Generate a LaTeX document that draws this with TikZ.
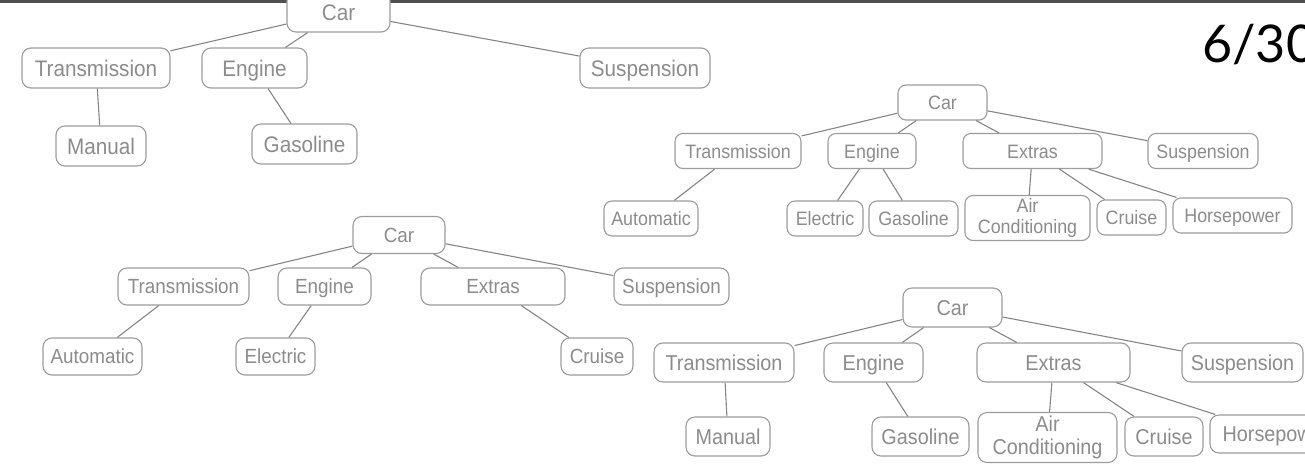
\documentclass[tikz,border=0pt]{standalone}
\usepackage{fontspec}
\setmainfont{Liberation Sans}
\newfontfamily\boxfont[FakeStretch=0.92]{Liberation Sans}
\newfontfamily\pagefont{Lato}
\usetikzlibrary{positioning}
\definecolor{treeText}{HTML}{8C8C8C}
\definecolor{treeLine}{HTML}{9C9C9C}
\definecolor{edgeGrey}{HTML}{858585}
\definecolor{barGrey}{HTML}{505050}
\tikzset{
  tbox/.style={draw=treeLine, fill=white, line width=1.1pt, rounded corners=9pt,
        text=treeText, align=center, inner sep=0pt, text depth=0pt},
  tbig/.style={tbox, minimum height=40pt, text height=16.2pt,
        font=\boxfont\fontsize{22.5}{24.5}\selectfont},
  tmid/.style={tbox, minimum height=37pt, text height=14.8pt,
        font=\boxfont\fontsize{20.5}{22.5}\selectfont},
  tsmall/.style={tbox, minimum height=35pt, rounded corners=8pt, text height=14pt,
        font=\boxfont\fontsize{19.4}{21.5}\selectfont},
  tlarge/.style={tbox, minimum height=39pt, text height=15.5pt,
        font=\boxfont\fontsize{21.5}{23.5}\selectfont},
  twoline/.style={text height=, text depth=},
  link/.style={draw=edgeGrey, line width=1.1pt},
  pagenum/.style={font=\pagefont\fontsize{52}{56}\selectfont, text=black, inner sep=0pt}
}
\begin{document}
\begin{tikzpicture}[x=1pt, y=-1pt]
\useasboundingbox (0,0) rectangle (1305,463);
\clip (0,0) rectangle (1305,463);

% top rule and page number
\fill[barGrey] (0,0) rectangle (1305,2.5);
\node[pagenum, anchor=base west] (pg) at (1202,62) {6/30};

% tree 1 (top left)
\node[tbig, minimum width=103pt] (acar) at (338.5,12) {Car};
\node[tbig, minimum width=148pt] (atrans) at (96,68) {Transmission};
\node[tbig, minimum width=105pt] (aengine) at (254.5,68) {Engine};
\node[tbig, minimum width=130pt] (asusp) at (645,68) {Suspension};
\node[tbig, minimum width=90pt] (amanual) at (101,146) {Manual};
\node[tbig, minimum width=105pt] (agas) at (304.5,144) {Gasoline};

\foreach \c in {atrans,aengine,asusp}
  \draw[link] (acar) -- (\c);
\draw[link] (atrans) -- (amanual);
\draw[link] (aengine) -- (agas);

% tree 2 (bottom left)
\node[tmid, minimum width=92pt] (bcar) at (399,235) {Car};
\node[tmid, minimum width=131pt] (btrans) at (183.5,286.5) {Transmission};
\node[tmid, minimum width=93pt] (bengine) at (324.5,286.5) {Engine};
\node[tmid, minimum width=144pt] (bextras) at (493,286.5) {Extras};
\node[tmid, minimum width=115pt] (bsusp) at (671.5,286.5) {Suspension};
\node[tmid, minimum width=99pt] (bauto) at (92.5,356.5) {Automatic};
\node[tmid, minimum width=79pt] (belec) at (275.5,356.5) {Electric};
\node[tmid, minimum width=72pt] (bcruise) at (597,356.5) {Cruise};

\foreach \c in {btrans,bengine,bextras,bsusp}
  \draw[link] (bcar) -- (\c);
\draw[link] (btrans) -- (bauto);
\draw[link] (bengine) -- (belec);
\draw[link] (bextras) -- (bcruise);

% tree 3 (middle right)
\node[tsmall, minimum width=89pt] (ccar) at (942.5,102.5) {Car};
\node[tsmall, minimum width=126pt] (ctrans) at (738,151) {Transmission};
\node[tsmall, minimum width=88pt] (cengine) at (872,151) {Engine};
\node[tsmall, minimum width=139pt] (cextras) at (1032.5,151) {Extras};
\node[tsmall, minimum width=110pt] (csusp) at (1203,151) {Suspension};
\node[tsmall, minimum width=94pt] (cauto) at (651,218.5) {Automatic};
\node[tsmall, minimum width=76pt] (celec) at (825,218.5) {Electric};
\node[tsmall, minimum width=89pt] (cgas) at (913.5,218.5) {Gasoline};
\node[tsmall, twoline, minimum width=125pt, minimum height=45pt] (cair) at (1027.5,218) {Air\\Conditioning};
\node[tsmall, minimum width=69pt] (ccruise) at (1131.5,217.5) {Cruise};
\node[tsmall, minimum width=119pt] (chorse) at (1232.5,215.5) {Horsepower};

\foreach \c in {ctrans,cengine,cextras,csusp}
  \draw[link] (ccar) -- (\c);
\draw[link] (ctrans) -- (cauto);
\foreach \c in {celec,cgas}
  \draw[link] (cengine) -- (\c);
\foreach \c in {cair,ccruise,chorse}
  \draw[link] (cextras) -- (\c);

% tree 4 (bottom right)
\node[tlarge, minimum width=99pt] (dcar) at (952.5,307.5) {Car};
\node[tlarge, minimum width=140pt] (dtrans) at (724,362.5) {Transmission};
\node[tlarge, minimum width=99pt] (dengine) at (873.5,362.5) {Engine};
\node[tlarge, minimum width=153pt] (dextras) at (1053.5,362.5) {Extras};
\node[tlarge, minimum width=121pt] (dsusp) at (1242.5,362.5) {Suspension};
\node[tlarge, minimum width=84pt] (dmanual) at (728,436.5) {Manual};
\node[tlarge, minimum width=97pt] (dgas) at (920.5,436.5) {Gasoline};
\node[tlarge, twoline, minimum width=139pt, minimum height=50pt] (dair) at (1047.5,437.5) {Air\\Conditioning};
\node[tlarge, minimum width=78pt] (dcruise) at (1164,436.5) {Cruise};
\node[tlarge, minimum width=132pt, minimum height=38pt] (dhorse) at (1276,434) {Horsepower};

\foreach \c in {dtrans,dengine,dextras,dsusp}
  \draw[link] (dcar) -- (\c);
\draw[link] (dtrans) -- (dmanual);
\draw[link] (dengine) -- (dgas);
\foreach \c in {dair,dcruise,dhorse}
  \draw[link] (dextras) -- (\c);
\end{tikzpicture}
\end{document}
